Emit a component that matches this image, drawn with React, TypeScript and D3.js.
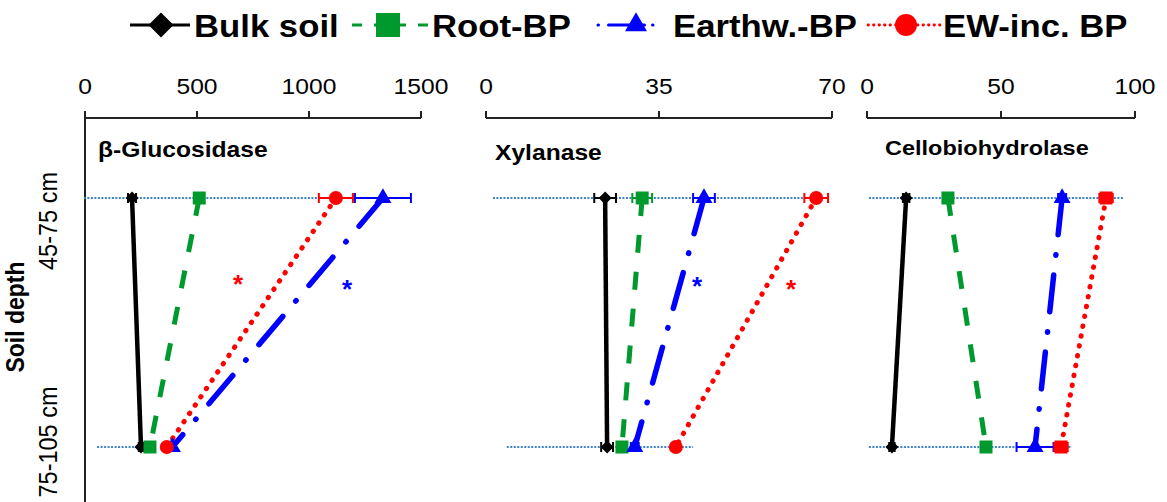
import React from 'react';
import * as d3 from 'd3';

// ---- data ----
const depths = ['45-75 cm', '75-105 cm'];
const seriesNames = ['Bulk soil', 'Root-BP', 'Earthw.-BP', 'EW-inc. BP'];
const enzymes = ['β-Glucosidase', 'Xylanase', 'Cellobiohydrolase'];
const axisMax = [1500, 70, 100];
const axisTicks = [
  [0, 500, 1000, 1500],
  [0, 35, 70],
  [0, 50, 100],
];

// enzyme activity, [45-75 cm, 75-105 cm] for each series
const glucosidase = [[210, 250], [510, 290], [1330, 390], [1120, 365]];
const glucosidaseErr = [[18, 10], [15, 10], [125, 12], [76, 12]];
const xylanase = [[24.1, 24.5], [31.6, 27.5], [44.1, 30.1], [66.8, 38.4]];
const xylanaseErr = [[2.2, 1.2], [2.0, 0.8], [2.2, 0.8], [2.4, 0.8]];
const cellobiohydrolase = [[14.6, 9.3], [30.2, 44.4], [72.8, 62.7], [89.2, 72.4]];
const cellobiohydrolaseErr = [[1.2, 1.0], [1.2, 1.2], [1.5, 6.9], [2.5, 2.5]];

// dotted depth guides, extent in axis units
const guideTop = [[-5, 1450], [1.4, 68.8], [0.7, 95.5]];
const guideBottom = [[54, 259], [4.2, 41.9], [0.7, 76.5]];

// significant depth effects (*): enzyme, series, axis value, fraction of depth span
const sigEnzyme = [0, 0, 1, 1];
const sigSeries = [3, 2, 2, 3];
const sigValue = [683, 1170, 42.7, 61.7];
const sigDepth = [0.32, 0.34, 0.33, 0.34];

const values = [glucosidase, xylanase, cellobiohydrolase];
const errors = [glucosidaseErr, xylanaseErr, cellobiohydrolaseErr];

// ---- styling ----
const FONT = '"Liberation Sans", Arial, Helvetica, sans-serif';
const SX = 1.12;
const colors = ['#000000', '#00992e', '#0000ff', '#ff0000'];
const guideColor = '#3f82c8';
const panelRanges = [[85, 421], [486, 832], [867, 1135]];
const axisY = 118;
const titleX = [98, 495, 885];
const titleY = [157, 160, 155];

const lineStyle = [
  { width: 4.5, dash: null, cap: 'butt' },
  { width: 5, dash: '18 19', cap: 'butt' },
  { width: 5.5, dash: '37 20 0.5 20', cap: 'round' },
  { width: 5, dash: '0.5 9.5', cap: 'round' },
];

type MarkerKind = 'diamond' | 'square' | 'triangle' | 'circle';
const markerKinds: MarkerKind[] = ['diamond', 'square', 'triangle', 'circle'];

function markerPath(kind: MarkerKind, s: number): string {
  if (kind === 'diamond') return d3.symbol(d3.symbolSquare, (s * s) / 2)()!;
  if (kind === 'square') return d3.symbol(d3.symbolSquare, s * s)()!;
  if (kind === 'triangle') return d3.symbol(d3.symbolTriangle, (s * s * Math.sqrt(3)) / 4)()!;
  return d3.symbol(d3.symbolCircle, (Math.PI * s * s) / 4)()!;
}

function Marker({ kind, x, y, s, color }: { kind: MarkerKind; x: number; y: number; s: number; color: string }) {
  const rot = kind === 'diamond' ? ' rotate(45)' : '';
  return <path d={markerPath(kind, s)} transform={`translate(${x},${y})${rot}`} fill={color} />;
}

function SText(props: {
  x: number; y: number; size: number; bold?: boolean; anchor?: string; rotate?: number; fill?: string; children: React.ReactNode;
}) {
  const { x, y, size, bold, anchor = 'start', rotate = 0, fill = '#000', children } = props;
  return (
    <text
      transform={`translate(${x},${y}) scale(${SX},1)${rotate ? ` rotate(${rotate})` : ''}`}
      fontFamily={FONT}
      fontSize={size}
      fontWeight={bold ? 'bold' : 'normal'}
      textAnchor={anchor}
      fill={fill}
    >
      {children}
    </text>
  );
}

const yScale = d3.scalePoint<string>().domain(depths).range([198, 447]);

function Panel({ p }: { p: number }) {
  const x = d3.scaleLinear().domain([0, axisMax[p]]).range(panelRanges[p]);
  const yTop = yScale(depths[0])!;
  const yBot = yScale(depths[1])!;
  const line = d3
    .line<[number, string]>()
    .x((d) => x(d[0]))
    .y((d) => yScale(d[1])!);
  const kindFor = (si: number): MarkerKind => (p === 2 && si === 3 ? 'square' : markerKinds[si]);
  const sizeFor = (k: MarkerKind) => (k === 'diamond' ? 13 : k === 'square' ? 13 : k === 'triangle' ? 17 : 14);

  return (
    <g>
      {/* top axis */}
      <line x1={x(0)} x2={x(axisMax[p])} y1={axisY} y2={axisY} stroke="#222" strokeWidth={2} />
      {axisTicks[p].map((t) => (
        <g key={t}>
          <line x1={x(t)} x2={x(t)} y1={axisY} y2={axisY - 7} stroke="#222" strokeWidth={2} />
          <SText x={x(t)} y={94} size={22} anchor="middle">{t}</SText>
        </g>
      ))}
      <SText x={titleX[p]} y={titleY[p]} size={p === 2 ? 21 : 22} bold>{enzymes[p]}</SText>

      {/* depth guides */}
      <line x1={x(guideTop[p][0])} x2={x(guideTop[p][1])} y1={yTop} y2={yTop}
        stroke={guideColor} strokeWidth={2} strokeDasharray="2 1.5" />
      <line x1={x(guideBottom[p][0])} x2={x(guideBottom[p][1])} y1={yBot} y2={yBot}
        stroke={guideColor} strokeWidth={2} strokeDasharray="2 1.5" />

      {/* profiles */}
      {values[p].map((v, si) => (
        <path key={si}
          d={line([[v[0], depths[0]], [v[1], depths[1]]])!}
          fill="none" stroke={colors[si]} strokeWidth={lineStyle[si].width}
          strokeDasharray={lineStyle[si].dash ?? undefined} strokeLinecap={lineStyle[si].cap as any} />
      ))}

      {/* error bars */}
      {values[p].map((v, si) =>
        v.map((val, di) => {
          const e = errors[p][si][di];
          const y = yScale(depths[di])!;
          const x1 = x(val - e), x2 = x(val + e);
          return (
            <g key={`${si}-${di}`} stroke={colors[si]} strokeWidth={2}>
              <line x1={x1} x2={x2} y1={y} y2={y} />
              <line x1={x1} x2={x1} y1={y - 5} y2={y + 5} />
              <line x1={x2} x2={x2} y1={y - 5} y2={y + 5} />
            </g>
          );
        })
      )}

      {/* markers */}
      {values[p].map((v, si) =>
        v.map((val, di) => {
          const k = kindFor(si);
          return <Marker key={`${si}-${di}`} kind={k} x={x(val)} y={yScale(depths[di])!} s={sizeFor(k)} color={colors[si]} />;
        })
      )}

      {/* significance marks */}
      {sigEnzyme.map((en, i) =>
        en === p ? (
          <text key={i} x={x(sigValue[i])} y={yTop + sigDepth[i] * (yBot - yTop) + 15}
            fontFamily={FONT} fontSize={26} fontWeight="bold" textAnchor="middle" fill={colors[sigSeries[i]]}>*</text>
        ) : null
      )}
    </g>
  );
}

function Legend() {
  const ly = 25;
  const items = [
    { x0: 130, x1: 190, mx: 161, tx: 194, size: 24, dash: null as string | null },
    { x0: 352, x1: 428, mx: 388, tx: 432, size: 24, dash: '10 12' },
    { x0: 598, x1: 660, mx: 636, tx: 673, size: 24, dash: '0.5 10 36 8' },
    { x0: 868, x1: 940, mx: 906, tx: 943, size: 22, dash: '0.5 5' },
  ];
  return (
    <g>
      {items.map((it, i) => (
        <g key={i}>
          <line x1={it.x0} x2={it.x1} y1={ly} y2={ly} stroke={colors[i]} strokeWidth={i === 3 ? 2.8 : 3}
            strokeDasharray={it.dash ?? undefined} strokeLinecap={i >= 2 ? 'round' : 'butt'} />
          <Marker kind={markerKinds[i]} x={it.mx} y={ly} s={i === 0 ? 25 : i === 2 ? 22 : it.size} color={colors[i]} />
          <SText x={it.tx} y={37} size={31} bold>{seriesNames[i]}</SText>
        </g>
      ))}
    </g>
  );
}

export default function App() {
  return (
    <svg width={1167} height={502} style={{ position: 'absolute', left: 0, top: 0, background: '#fff' }}>
      <rect width={1167} height={502} fill="#fff" />
      <Legend />
      {/* depth axis */}
      <line x1={85} x2={85} y1={axisY} y2={502} stroke="#222" strokeWidth={2} />
      <SText x={24} y={317} size={23} bold anchor="middle" rotate={-90}>Soil depth</SText>
      <SText x={57} y={yScale(depths[0])! + 23} size={23.5} anchor="middle" rotate={-90}>{depths[0]}</SText>
      <SText x={57} y={yScale(depths[1])! - 5} size={23.5} anchor="middle" rotate={-90}>{depths[1]}</SText>
      {[0, 1, 2].map((p) => (
        <Panel key={p} p={p} />
      ))}
    </svg>
  );
}
